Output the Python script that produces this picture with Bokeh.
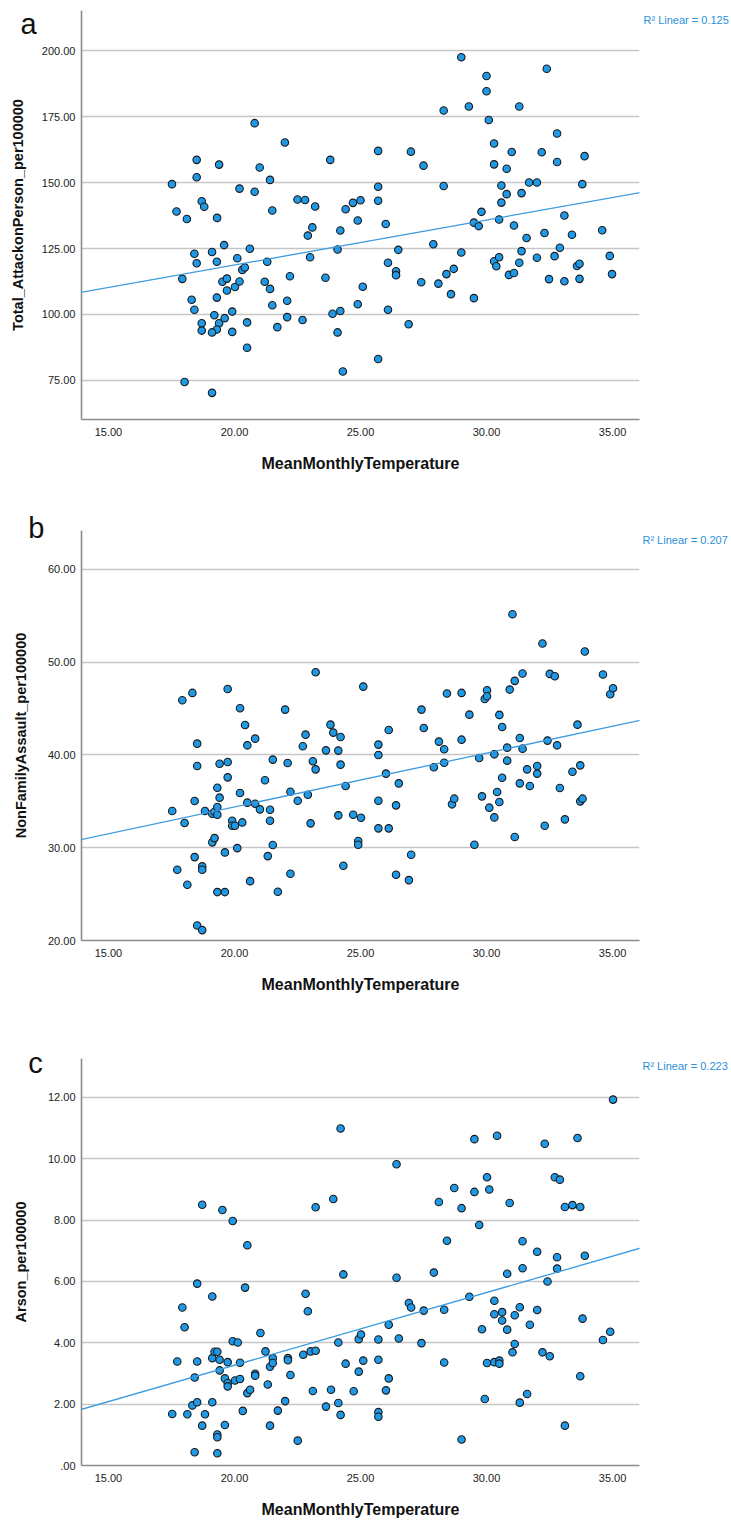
from bokeh.plotting import figure
from bokeh.models import Range1d, FixedTicker, Slope, Label
from bokeh.layouts import column
from bokeh.embed import file_html
from bokeh.resources import INLINE

# ---------------- data ----------------
x_ticks = [15, 20, 25, 30, 35]
x_tick_labels = ["15.00", "20.00", "25.00", "30.00", "35.00"]
x_title = "MeanMonthlyTemperature"

# panel a
temp_a = [17.52, 17.70, 18.11, 17.93, 18.02, 18.50, 18.50, 18.70, 18.80, 19.31,
          19.39, 18.41, 18.50, 18.30, 18.41, 18.70, 18.70, 19.11, 19.30, 19.59,
          19.52, 19.70, 19.70, 19.30, 19.20, 19.39, 19.30, 19.11, 19.11, 19.61,
          19.91, 19.91, 20.02, 20.11, 20.20, 20.20, 20.31, 20.41, 20.50, 20.50,
          20.61, 20.80, 20.80, 21.00, 21.30, 21.20, 21.41, 21.50, 21.41, 21.50,
          21.70, 22.00, 22.09, 22.09, 22.20, 22.50, 22.80, 22.70, 22.91, 23.00,
          23.09, 23.20, 23.61, 23.80, 23.89, 24.09, 24.09, 24.20, 24.20, 24.30,
          24.41, 24.70, 25.00, 24.89, 24.89, 25.09, 25.70, 25.70, 25.70, 25.70,
          26.00, 26.09, 26.09, 26.41, 26.41, 26.50, 26.91, 27.00, 27.41, 27.50,
          27.89, 28.09, 28.30, 28.30, 28.41, 28.59, 28.70, 29.00, 29.00, 29.30,
          29.50, 29.69, 29.50, 29.80, 30.00, 30.00, 30.09, 30.30, 30.30, 30.30,
          30.39, 30.50, 30.50, 30.59, 30.59, 30.80, 30.80, 31.00, 31.09, 30.89,
          31.09, 31.30, 31.30, 31.39, 31.39, 31.59, 31.69, 32.00, 32.00, 32.19,
          32.30, 32.39, 32.48, 32.70, 32.80, 32.80, 32.91, 33.09, 33.09, 33.39,
          33.59, 33.69, 33.69, 33.80, 33.89, 34.59, 34.89, 34.98]
attack_a = [149.4, 139.0, 136.2, 113.5, 74.4, 158.6, 152.0, 142.9, 140.8, 136.6,
            156.8, 123.0, 119.4, 105.6, 101.8, 96.7, 93.9, 123.7, 120.0, 126.3,
            112.4, 113.6, 109.1, 106.4, 99.7, 96.7, 94.3, 93.2, 70.3, 98.6,
            101.1, 93.4, 110.4, 121.3, 147.7, 112.5, 116.9, 117.8, 97.0, 87.4,
            124.9, 172.5, 146.5, 155.7, 120.0, 112.4, 151.0, 139.4, 109.7, 103.5,
            95.2, 165.2, 105.2, 99.0, 114.5, 143.6, 143.4, 97.9, 129.9, 121.7,
            133.0, 140.9, 113.9, 158.6, 100.3, 124.6, 93.2, 131.8, 101.3, 78.4,
            139.9, 142.3, 143.3, 135.6, 103.9, 110.5, 162.0, 148.4, 143.1, 83.1,
            134.3, 119.6, 101.8, 116.4, 114.9, 124.5, 96.3, 161.7, 112.2, 156.4,
            126.6, 111.7, 177.3, 148.7, 115.3, 107.7, 117.3, 197.5, 123.5, 178.8,
            134.8, 133.5, 106.2, 138.9, 190.4, 184.6, 173.7, 164.8, 156.9, 120.2,
            118.3, 136.0, 121.7, 148.9, 142.4, 155.2, 145.6, 161.6, 133.7, 115.0,
            115.7, 178.8, 119.6, 146.0, 124.0, 129.0, 150.0, 150.0, 121.5, 161.5,
            130.9, 193.1, 113.4, 122.1, 168.6, 157.8, 125.3, 137.5, 112.6, 130.2,
            118.4, 119.2, 113.5, 149.4, 160.0, 131.9, 122.2, 115.3]
y_ticks_a = [75, 100, 125, 150, 175, 200]
y_labels_a = ["75.00", "100.00", "125.00", "150.00", "175.00", "200.00"]
fit_a = (1.707, 84.6)      # slope, intercept
r2_a = "0.125"

# panel b
temp_b = [17.53, 17.73, 17.93, 18.02, 18.13, 18.33, 18.42, 18.42, 18.52, 18.52,
          18.52, 18.72, 18.72, 18.72, 18.83, 19.12, 19.12, 19.21, 19.21, 19.32,
          19.32, 19.32, 19.32, 19.41, 19.41, 19.62, 19.62, 19.73, 19.73, 19.73,
          19.91, 19.91, 20.02, 20.11, 20.22, 20.22, 20.31, 20.42, 20.51, 20.51,
          20.62, 20.82, 20.82, 21.01, 21.21, 21.32, 21.41, 21.41, 21.52, 21.52,
          21.72, 22.01, 22.11, 22.22, 22.22, 22.51, 22.71, 22.82, 22.91, 23.02,
          23.11, 23.22, 23.22, 23.63, 23.81, 23.92, 24.12, 24.12, 24.21, 24.21,
          24.32, 24.41, 24.71, 24.91, 24.91, 25.02, 25.11, 25.71, 25.71, 25.71,
          25.71, 26.01, 26.12, 26.12, 26.41, 26.41, 26.52, 26.92, 27.01, 27.42,
          27.51, 27.91, 28.11, 28.32, 28.32, 28.43, 28.63, 28.72, 29.01, 29.01,
          29.32, 29.52, 29.71, 29.82, 29.93, 30.02, 30.02, 30.11, 30.31, 30.31,
          30.42, 30.51, 30.51, 30.62, 30.62, 30.82, 30.82, 30.92, 31.03, 31.12,
          31.12, 31.32, 31.32, 31.43, 31.43, 31.61, 31.72, 32.01, 32.01, 32.22,
          32.31, 32.42, 32.51, 32.71, 32.80, 32.91, 33.11, 33.41, 33.61, 33.72,
          33.72, 33.81, 33.90, 34.62, 34.91, 35.02]
assault_b = [33.96, 27.63, 45.90, 32.66, 26.01, 46.69, 35.04, 28.99, 41.22, 38.81,
             21.62, 27.99, 27.63, 21.12, 33.96, 33.67, 30.58, 31.04, 33.88, 36.47,
             34.39, 33.56, 25.22, 35.40, 39.06, 25.22, 29.50, 47.12, 39.24, 37.59,
             32.91, 32.37, 32.37, 29.96, 45.04, 35.90, 32.73, 43.24, 41.04, 34.86,
             26.40, 41.76, 34.75, 34.14, 37.27, 29.10, 34.10, 32.91, 39.50, 30.29,
             25.25, 44.89, 39.14, 27.19, 36.04, 35.07, 40.94, 42.19, 35.72, 32.63,
             39.32, 48.92, 38.45, 40.50, 43.27, 42.41, 40.47, 33.49, 41.94, 38.96,
             28.06, 36.65, 33.56, 30.72, 30.32, 33.24, 47.37, 41.12, 40.00, 35.07,
             32.09, 37.99, 42.70, 32.09, 34.57, 27.09, 36.94, 26.51, 29.24, 44.89,
             42.91, 38.67, 41.44, 40.61, 39.17, 46.62, 34.68, 35.29, 46.69, 41.65,
             44.35, 30.32, 39.68, 35.54, 46.04, 46.98, 46.33, 34.32, 40.07, 33.27,
             36.01, 44.32, 34.93, 43.02, 37.55, 40.79, 39.39, 47.05, 55.18, 47.99,
             31.15, 41.83, 36.94, 48.78, 40.68, 38.45, 36.65, 38.81, 37.99, 52.01,
             32.37, 41.55, 48.74, 48.49, 41.04, 36.44, 33.06, 38.20, 43.27, 38.88,
             35.00, 35.29, 51.15, 48.67, 46.55, 47.19]
y_ticks_b = [20, 30, 40, 50, 60]
y_labels_b = ["20.00", "30.00", "40.00", "50.00", "60.00"]
fit_b = (0.580, 22.8)
r2_b = "0.207"

# panel c
temp_c = [17.53, 17.73, 17.93, 18.02, 18.13, 18.33, 18.42, 18.42, 18.52, 18.52,
          18.52, 18.72, 18.72, 18.83, 19.12, 19.12, 19.12, 19.21, 19.32, 19.32,
          19.32, 19.32, 19.41, 19.41, 19.52, 19.62, 19.62, 19.73, 19.73, 19.73,
          19.93, 19.93, 20.02, 20.13, 20.22, 20.22, 20.33, 20.42, 20.51, 20.51,
          20.62, 20.82, 20.82, 21.03, 21.23, 21.32, 21.41, 21.41, 21.52, 21.52,
          21.72, 22.01, 22.12, 22.12, 22.22, 22.51, 22.73, 22.82, 22.91, 23.02,
          23.11, 23.22, 23.22, 23.63, 23.83, 23.92, 24.12, 24.12, 24.21, 24.21,
          24.32, 24.41, 24.73, 24.93, 24.93, 25.02, 25.11, 25.71, 25.71, 25.71,
          25.71, 26.01, 26.12, 26.12, 26.43, 26.43, 26.52, 26.92, 27.01, 27.42,
          27.51, 27.91, 28.11, 28.32, 28.32, 28.43, 28.72, 29.01, 29.01, 29.32,
          29.52, 29.52, 29.71, 29.82, 29.93, 30.02, 30.02, 30.11, 30.31, 30.31,
          30.31, 30.42, 30.51, 30.51, 30.62, 30.62, 30.82, 30.82, 30.92, 31.03,
          31.12, 31.12, 31.32, 31.32, 31.43, 31.43, 31.61, 31.72, 32.01, 32.01,
          32.22, 32.31, 32.42, 32.51, 32.71, 32.80, 32.80, 32.91, 33.11, 33.11,
          33.41, 33.61, 33.72, 33.72, 33.81, 33.90, 34.62, 34.91, 35.02]
arson_c = [1.68, 3.39, 5.15, 4.51, 1.67, 1.96, 2.87, 0.43, 5.93, 3.39,
           2.06, 8.50, 1.30, 1.67, 5.51, 3.50, 2.06, 3.71, 3.71, 1.01,
           0.92, 0.40, 3.45, 3.10, 8.33, 2.84, 1.32, 3.37, 2.69, 2.58,
           7.97, 4.05, 2.77, 4.01, 3.35, 2.82, 1.78, 5.80, 7.18, 2.36,
           2.47, 2.99, 2.93, 4.32, 3.72, 2.64, 3.22, 1.30, 3.50, 3.34,
           1.79, 2.10, 3.50, 3.43, 2.95, 0.81, 3.61, 5.60, 5.03, 3.72,
           2.43, 3.74, 8.42, 1.92, 2.47, 8.69, 4.01, 2.04, 10.99, 1.65,
           6.23, 3.32, 2.42, 4.12, 3.06, 4.27, 3.42, 4.11, 3.45, 1.74,
           1.59, 2.45, 4.59, 2.84, 9.82, 6.12, 4.14, 5.30, 5.15, 3.99,
           5.05, 6.29, 8.59, 5.08, 3.36, 7.33, 9.05, 8.39, 0.85, 5.50,
           8.92, 10.64, 7.84, 4.44, 2.17, 9.40, 3.34, 9.00, 5.37, 4.93,
           3.37, 10.75, 3.42, 3.32, 5.00, 4.73, 6.25, 4.43, 8.56, 3.69,
           4.90, 3.96, 5.16, 2.05, 7.31, 6.43, 2.33, 4.59, 6.97, 5.07,
           3.69, 10.49, 6.00, 3.56, 9.40, 6.79, 6.42, 9.32, 8.43, 1.30,
           8.49, 10.68, 8.43, 2.91, 4.79, 6.84, 4.09, 4.36, 11.93]
y_ticks_c = [0, 2, 4, 6, 8, 10, 12]
y_labels_c = [".00", "2.00", "4.00", "6.00", "8.00", "10.00", "12.00"]
fit_c = (0.237, -1.47)
r2_c = "0.223"

# ---------------- styling ----------------
FONT = "Liberation Sans"
DOT = "#1f98e6"
FIT = "#3c9be0"
GRID = "#c6c6c6"
AXIS = "#8c8c8c"
W = 731
X0, X1 = 13.93, 36.07


def panel(xs, ys, ytitle, yrange, yticks, ylabels, fit, r2, letter,
          height, bt, bb, bl, fw, ystand, letter_base, r2_mid, r2_side):
    fh = height - bt - bb
    Y0, Y1 = yrange
    p = figure(width=W, height=height,
               x_range=Range1d(X0, X1), y_range=Range1d(Y0, Y1),
               output_backend="svg", toolbar_location=None,
               min_border_left=bl, min_border_right=W - bl - fw,
               min_border_top=bt, min_border_bottom=bb)
    p.outline_line_color = None
    p.background_fill_color = "white"
    p.border_fill_color = "white"

    p.xaxis.ticker = FixedTicker(ticks=x_ticks)
    p.xaxis.major_label_overrides = dict(zip(x_ticks, x_tick_labels))
    p.yaxis.ticker = FixedTicker(ticks=yticks)
    p.yaxis.major_label_overrides = dict(zip(yticks, ylabels))
    p.xaxis.axis_label = x_title
    p.yaxis.axis_label = ytitle
    for ax in (p.xaxis, p.yaxis):
        ax.axis_line_color = AXIS
        ax.axis_line_width = 1.6
        ax.major_tick_out = 0
        ax.major_tick_in = 0
        ax.minor_tick_out = 0
        ax.minor_tick_in = 0
        ax.major_label_text_font = FONT
        ax.major_label_text_font_size = "11px"
        ax.major_label_text_color = "#222222"
        ax.axis_label_text_font = FONT
        ax.axis_label_text_font_style = "bold"
        ax.axis_label_text_color = "#111111"
    p.xaxis.major_label_standoff = 8
    p.yaxis.major_label_standoff = 6
    p.xaxis.axis_label_text_font_size = "16px"
    p.yaxis.axis_label_text_font_size = "14.5px"
    p.xaxis.axis_label_standoff = 16
    p.yaxis.axis_label_standoff = ystand

    p.xgrid.visible = False
    p.ygrid.grid_line_color = GRID
    p.ygrid.grid_line_width = 1.5

    p.add_layout(Slope(gradient=fit[0], y_intercept=fit[1],
                       line_color=FIT, line_width=1.3))
    p.scatter(xs, ys, size=7.5, fill_color=DOT, line_color="#1a1a1a",
              line_width=1.1)

    # page pixels -> data units (frame top in page coords)
    ftop = sum_prev[0] + bt

    def dx(px):
        return X0 + (px - bl) * (X1 - X0) / fw

    def dy(py):
        return Y1 - (py - ftop) * (Y1 - Y0) / fh

    # texts that sit outside the frame live in side panels (not clipped)
    p.add_layout(Label(x=dx(20), y=dy(letter_base), text=letter,
                       text_font=FONT, text_font_size="29px",
                       text_color="#111111", text_baseline="alphabetic"), "right")
    p.add_layout(Label(x=dx(643), y=dy(r2_mid), text="R\u00b2 Linear = " + r2,
                       text_font=FONT, text_font_size="11px",
                       text_color="#2b8fdc", text_baseline="middle",
                       text_align="left"), r2_side)
    sum_prev[0] += height
    return p


sum_prev = [0]
pa = panel(temp_a, attack_a, "Total_AttackonPerson_per100000", (60.2, 215.2),
           y_ticks_a, y_labels_a, fit_a, r2_a, "a", 490, 10, 71, 81, 558, 13,
           23, 19, "below")
pb = panel(temp_b, assault_b, "NonFamilyAssault_per100000", (20, 64.2),
           y_ticks_b, y_labels_b, fit_b, r2_b, "b", 528, 40, 78, 74, 566, 16,
           527, 539, "above")
pc = panel(temp_c, arson_c, "Arson_per100000", (0, 13.27),
           y_ticks_c, y_labels_c, fit_c, r2_c, "c", 502, 40, 54, 74, 566, 16,
           1063, 1066, "above")

layout = column(pa, pb, pc, spacing=0)
open("out.html", "w").write(file_html(layout, INLINE))
